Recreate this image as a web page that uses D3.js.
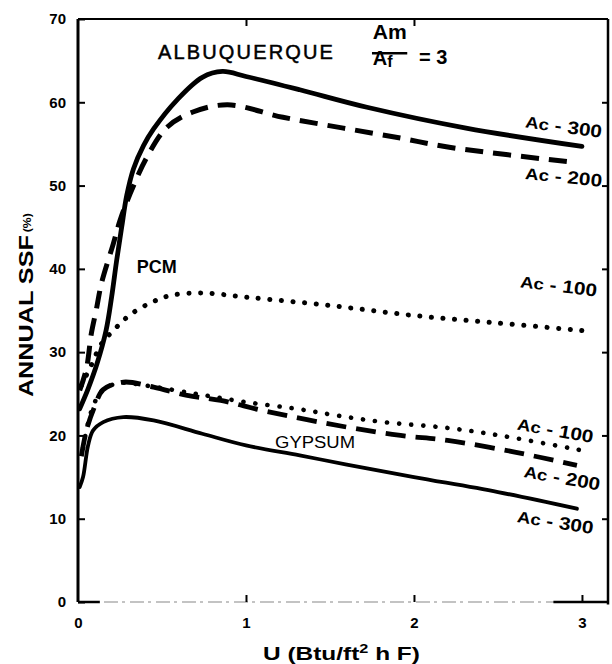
<!DOCTYPE html>
<html>
<head>
<meta charset="utf-8">
<script src="https://cdn.jsdelivr.net/npm/d3@7/dist/d3.min.js"></script>
<style>
  html, body { margin: 0; padding: 0; background: #fff; }
  svg { display: block; font-family: "Liberation Sans", Arial, Helvetica, sans-serif; }
</style>
</head>
<body>
<svg id="chart" width="612" height="664"></svg>
<script>
// ---- data (U in Btu/ft2 h F, annual SSF in %) ----
const pcm300 = [[0.01,23.2],[0.06,25.6],[0.113,28.6],[0.167,32.6],[0.2,36.6],[0.23,41],[0.26,45],[0.29,48.8],[0.33,52],[0.39,54.8],[0.45,56.8],[0.59,60.3],[0.74,63],[0.86,63.7],[1.0,63.1],[1.32,61.5],[1.72,59.4],[2.31,56.9],[3.0,54.7]];
const pcm200 = [[0.01,25.4],[0.05,28],[0.08,32.3],[0.11,35.2],[0.14,38.3],[0.21,43],[0.25,45.8],[0.31,49],[0.41,53.4],[0.53,57],[0.68,58.8],[0.89,59.7],[1.22,58.2],[1.58,56.9],[1.92,55.7],[2.21,54.6],[2.95,52.8]];
const pcm100 = [[0.02,26],[0.08,28.5],[0.14,31],[0.21,32.6],[0.26,33.6],[0.31,34.5],[0.43,35.9],[0.55,36.8],[0.74,37.1],[1.0,36.6],[1.5,35.6],[2.0,34.4],[2.5,33.5],[3.0,32.6]];
const gyp300 = [[0.01,13.8],[0.03,15],[0.06,18.8],[0.09,20.6],[0.15,21.6],[0.27,22.2],[0.45,21.8],[0.74,20.2],[1.0,18.8],[1.32,17.6],[1.6,16.5],[2.0,15.0],[2.5,13.2],[2.97,11.2]];
const gyp200 = [[0.02,17.5],[0.05,20.6],[0.1,23.5],[0.15,25.5],[0.27,26.4],[0.45,25.8],[0.65,24.8],[0.85,24.2],[1.12,22.9],[1.6,21],[1.92,20],[2.2,19.4],[2.6,18],[2.97,16.4]];
const gyp100 = [[0.03,18.5],[0.06,21.5],[0.1,24],[0.15,25.5],[0.25,26.3],[0.4,26],[0.7,25],[1.0,24],[1.3,23.2],[1.54,22.4],[1.82,21.6],[2.2,20.9],[2.51,20],[3.0,18.2]];
const yTicks = [0,10,20,30,40,50,60,70];
const xTicks = [0,1,2,3];

// ---- scales ----
const svg = d3.select("#chart");
const x = d3.scaleLinear().domain([0, 3.155]).range([78, 608]);
const y = d3.scaleLinear().domain([0, 70]).range([602, 19]);

const line = d3.line().x(d => x(d[0])).y(d => y(d[1])).curve(d3.curveCatmullRom.alpha(0.5));

// ---- frame ----
const frame = svg.append("g").attr("stroke", "#000").attr("fill", "none");
frame.append("line").attr("x1", x(0)).attr("x2", x(0)).attr("y1", y(70)).attr("y2", y(0)).attr("stroke-width", 3);
frame.append("line").attr("x1", x(0)).attr("x2", x(3.155)).attr("y1", y(70)).attr("y2", y(70)).attr("stroke-width", 2);
frame.append("line").attr("x1", x(3.155)).attr("x2", x(3.155)).attr("y1", y(70)).attr("y2", y(-0.3)).attr("stroke-width", 2.5);
frame.append("line").attr("x1", x(0)).attr("x2", x(3.155)).attr("y1", y(0)).attr("y2", y(0))
  .attr("stroke", "#888").attr("stroke-width", 1.2).attr("stroke-dasharray", "14,4,3,5");
frame.append("line").attr("x1", x(0)).attr("x2", x(0.13)).attr("y1", y(0)).attr("y2", y(0)).attr("stroke-width", 2.5);
frame.append("line").attr("x1", x(2.83)).attr("x2", x(3.155)).attr("y1", y(0)).attr("y2", y(0)).attr("stroke-width", 2.5);

// ---- axes ----
const fontTick = "bold 15px 'Liberation Sans', Arial, sans-serif";
const gl = svg.append("g").attr("transform", `translate(${x(0)},0)`)
  .call(d3.axisLeft(y).tickValues(yTicks).tickSize(-7).tickPadding(12).tickFormat(d3.format("d")));
const gb = svg.append("g").attr("transform", `translate(0,${y(0)})`)
  .call(d3.axisBottom(x).tickValues(xTicks).tickSize(-7).tickPadding(15).tickFormat(d3.format("d")));
const gt = svg.append("g").attr("transform", `translate(0,${y(70)})`)
  .call(d3.axisTop(x).tickValues([1,2]).tickSize(-7).tickFormat(""));
const gr = svg.append("g").attr("transform", `translate(${x(3.155)},0)`)
  .call(d3.axisRight(y).tickValues([10,20,30,40,50,60]).tickSize(-6).tickFormat(""));
[gl, gb, gt, gr].forEach(g => {
  g.select(".domain").remove();
  g.selectAll(".tick line").attr("stroke", "#000").attr("stroke-width", 2);
  g.selectAll(".tick text").attr("fill", "#000").style("font", fontTick);
});
gb.selectAll(".tick").filter(d => d === 0).select("line").remove();

// ---- curves ----
const series = [
  { data: pcm300, w: 4.8, dash: null, cap: "round" },
  { data: pcm200, w: 5, dash: "18,10", cap: "butt" },
  { data: pcm100, w: 5, dash: "0.1,11.5", cap: "round" },
  { data: gyp300, w: 3.8, dash: null, cap: "round" },
  { data: gyp200, w: 4.8, dash: "20,10", cap: "butt" },
  { data: gyp100, w: 4.6, dash: "0.1,12", cap: "round" }
];
svg.append("g").selectAll("path").data(series).join("path")
  .attr("d", s => line(s.data))
  .attr("fill", "none")
  .attr("stroke", "#000")
  .attr("stroke-width", s => s.w)
  .attr("stroke-linecap", s => s.cap)
  .attr("stroke-dasharray", s => s.dash);

// ---- annotations ----
const ann = svg.append("g").attr("fill", "#000");
ann.append("text").attr("x", x(0.476)).attr("y", y(65.2))
  .attr("textLength", 175).attr("lengthAdjust", "spacing")
  .attr("stroke", "#000").attr("stroke-width", 0.5)
  .style("font", "20px 'Liberation Sans', Arial, sans-serif").text("ALBUQUERQUE");

// fraction Am/Af = 3
const fracFont = "bold 20px 'Liberation Sans', Arial, sans-serif";
ann.append("text").attr("x", x(1.755)).attr("y", y(67.6))
  .attr("textLength", 34).attr("lengthAdjust", "spacingAndGlyphs")
  .style("font", fracFont).text("Am");
ann.append("line").attr("x1", x(1.75)).attr("x2", x(1.96)).attr("y1", y(65.9)).attr("y2", y(65.9))
  .attr("stroke", "#000").attr("stroke-width", 2.5);
ann.append("text").attr("x", x(1.755)).attr("y", y(64.5))
  .style("font", fracFont)
  .call(t => { t.append("tspan").text("A"); t.append("tspan").attr("font-size", 16).attr("dy", 2).text("f"); });
ann.append("text").attr("x", x(2.03)).attr("y", y(64.6))
  .style("font", fracFont).text("= 3");

ann.append("text").attr("x", x(0.35)).attr("y", y(39.5))
  .attr("textLength", 40).attr("lengthAdjust", "spacingAndGlyphs")
  .style("font", "bold 18px 'Liberation Sans', Arial, sans-serif").text("PCM");
ann.append("text").attr("x", x(1.173)).attr("y", y(18.5))
  .attr("textLength", 80).attr("lengthAdjust", "spacingAndGlyphs")
  .style("font", "16px 'Liberation Sans', Arial, sans-serif").text("GYPSUM");

const acLabels = [
  { u: 2.66, v: 57.0, rot: 8, val: "300" },
  { u: 2.66, v: 50.8, rot: 6, val: "200" },
  { u: 2.63, v: 37.8, rot: 7, val: "100" },
  { u: 2.61, v: 20.7, rot: 10, val: "100" },
  { u: 2.65, v: 15.0, rot: 10, val: "200" },
  { u: 2.61, v: 9.6, rot: 9, val: "300" }
];
acLabels.forEach(l => {
  const t = ann.append("text")
    .attr("transform", `translate(${x(l.u)},${y(l.v)}) rotate(${l.rot})`)
    .attr("textLength", 77).attr("lengthAdjust", "spacingAndGlyphs")
    .style("font", "600 16px 'Liberation Sans', Arial, sans-serif");
  t.append("tspan").text("Ac");
  t.append("tspan").attr("font-size", 18).text(" - " + l.val);
});

// axis titles
ann.append("text").attr("transform", `translate(33,${y(24.6)}) rotate(-90)`)
  .attr("textLength", 162).attr("lengthAdjust", "spacingAndGlyphs")
  .style("font", "bold 20px 'Liberation Sans', Arial, sans-serif").text("ANNUAL SSF");
ann.append("text").attr("transform", `translate(31,${y(44.4)}) rotate(-90)`)
  .attr("textLength", 19).attr("lengthAdjust", "spacingAndGlyphs")
  .style("font", "bold 11px 'Liberation Sans', Arial, sans-serif").text("(%)");
ann.append("text").attr("x", x(1.101)).attr("y", 660)
  .attr("textLength", 157).attr("lengthAdjust", "spacingAndGlyphs")
  .style("font", "bold 18px 'Liberation Sans', Arial, sans-serif")
  .call(t => {
    t.append("tspan").text("U (Btu/ft");
    t.append("tspan").attr("font-size", 12).attr("dy", -7).text("2");
    t.append("tspan").attr("dy", 7).text(" h F)");
  });
</script>
</body>
</html>
